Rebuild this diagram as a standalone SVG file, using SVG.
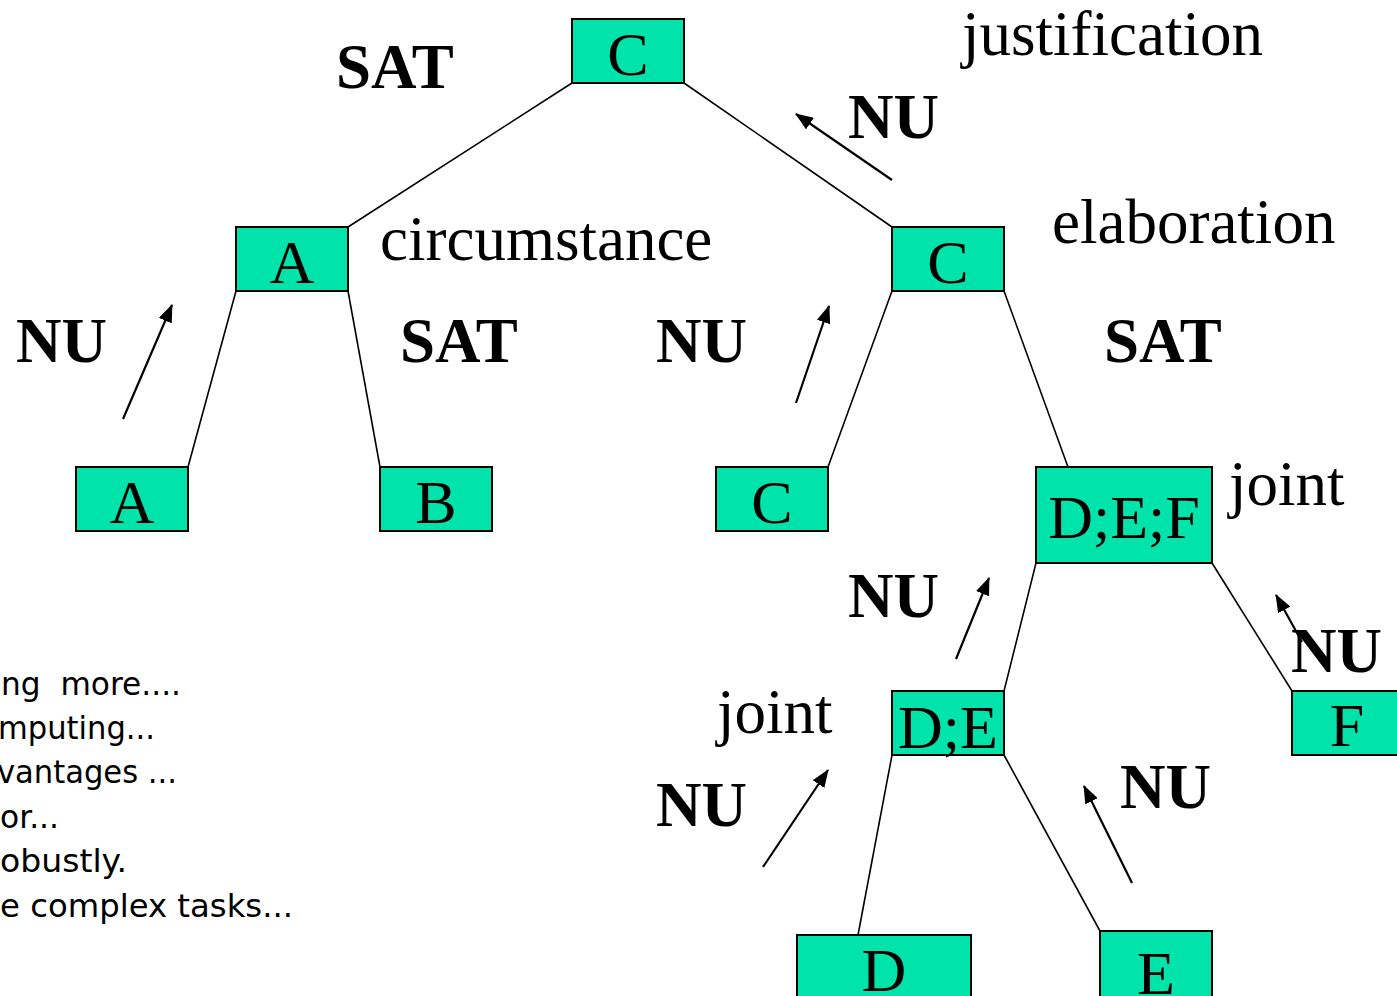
<svg xmlns="http://www.w3.org/2000/svg" width="1397" height="996" viewBox="0 0 1397 996">
  <style>
    .box { fill: #00e3aa; stroke: #000; stroke-width: 2; }
    .nodetxt { font-family: "Liberation Serif", "Times New Roman", serif; font-size: 62px; text-anchor: middle; fill: #000; }
    .rel { font-family: "Liberation Serif", "Times New Roman", serif; font-size: 63px; fill: #000; }
    .nuc { font-family: "Liberation Serif", "Times New Roman", serif; font-size: 63px; font-weight: bold; fill: #000; }
    .edge { stroke: #000; stroke-width: 1.6; fill: none; }
    .arrow { stroke: #000; stroke-width: 2.2; fill: none; marker-end: url(#head); }
    .note { font-family: "DejaVu Sans", Tahoma, Verdana, sans-serif; font-size: 32px; fill: #000; white-space: pre; }
  </style>
  <defs>
    <marker id="head" viewBox="0 0 18 14" refX="17" refY="7" markerWidth="18" markerHeight="14" markerUnits="userSpaceOnUse" orient="auto">
      <path d="M0,0 L18,7 L0,14 z" fill="#000"/>
    </marker>
  </defs>
  <rect width="1397" height="996" fill="#fff"/>

  <!-- tree edges -->
  <g id="connectors">
    <line class="edge" x1="572" y1="83" x2="348" y2="227"/>
    <line class="edge" x1="684" y1="83" x2="892" y2="227"/>
    <line class="edge" x1="236" y1="291" x2="188" y2="467"/>
    <line class="edge" x1="348" y1="291" x2="380" y2="467"/>
    <line class="edge" x1="892" y1="291" x2="828" y2="467"/>
    <line class="edge" x1="1004" y1="291" x2="1068" y2="467"/>
    <line class="edge" x1="1036" y1="563" x2="1004" y2="691"/>
    <line class="edge" x1="1212" y1="563" x2="1292" y2="691"/>
    <line class="edge" x1="892" y1="755" x2="858" y2="935"/>
    <line class="edge" x1="1004" y1="755" x2="1100" y2="931"/>
  </g>

  <!-- nucleus direction arrows -->
  <g id="arrows">
    <line class="arrow" x1="892" y1="180" x2="796" y2="114"/>
    <line class="arrow" x1="123" y1="419" x2="172" y2="305"/>
    <line class="arrow" x1="796" y1="403" x2="829" y2="306"/>
    <line class="arrow" x1="956" y1="659" x2="989" y2="578"/>
    <line class="arrow" x1="1302" y1="642" x2="1276" y2="595"/>
    <line class="arrow" x1="763" y1="867" x2="828" y2="770"/>
    <line class="arrow" x1="1132" y1="883" x2="1084" y2="786"/>
  </g>

  <!-- nodes -->
  <g id="n-root"><rect class="box" x="572" y="19" width="112" height="64"/><text class="nodetxt" x="628" y="75">C</text></g>
  <g id="n-a1"><rect class="box" x="236" y="227" width="112" height="64"/><text class="nodetxt" x="292" y="283">A</text></g>
  <g id="n-c1"><rect class="box" x="892" y="227" width="112" height="64"/><text class="nodetxt" x="948" y="283">C</text></g>
  <g id="n-a"><rect class="box" x="76" y="467" width="112" height="64"/><text class="nodetxt" x="132" y="523">A</text></g>
  <g id="n-b"><rect class="box" x="380" y="467" width="112" height="64"/><text class="nodetxt" x="436" y="523">B</text></g>
  <g id="n-c"><rect class="box" x="716" y="467" width="112" height="64"/><text class="nodetxt" x="772" y="523">C</text></g>
  <g id="n-def"><rect class="box" x="1036" y="467" width="176" height="96"/><text class="nodetxt" x="1124" y="538">D;E;F</text></g>
  <g id="n-de"><rect class="box" x="892" y="691" width="112" height="64"/><text class="nodetxt" x="948" y="748">D;E</text></g>
  <g id="n-f"><rect class="box" x="1292" y="691" width="112" height="64"/><text class="nodetxt" x="1347" y="746">F</text></g>
  <g id="n-d"><rect class="box" x="797" y="935" width="174" height="70"/><text class="nodetxt" x="884" y="991">D</text></g>
  <g id="n-e"><rect class="box" x="1100" y="931" width="112" height="70"/><text class="nodetxt" x="1156" y="994">E</text></g>

  <!-- relation names -->
  <g id="relations">
    <text class="rel" x="962" y="55">justification</text>
    <text class="rel" x="380" y="260">circumstance</text>
    <text class="rel" x="1052" y="243">elaboration</text>
    <text class="rel" x="1229" y="505">joint</text>
    <text class="rel" x="717" y="733">joint</text>
  </g>

  <!-- nucleus / satellite labels -->
  <g id="roles">
    <text class="nuc" x="336" y="88">SAT</text>
    <text class="nuc" x="848" y="138">NU</text>
    <text class="nuc" x="16" y="362">NU</text>
    <text class="nuc" x="400" y="362">SAT</text>
    <text class="nuc" x="656" y="362">NU</text>
    <text class="nuc" x="1104" y="362">SAT</text>
    <text class="nuc" x="848" y="617">NU</text>
    <text class="nuc" x="1291" y="672">NU</text>
    <text class="nuc" x="656" y="826">NU</text>
    <text class="nuc" x="1120" y="808">NU</text>
  </g>

  <!-- side notes -->
  <g id="notes">
    <text class="note" x="1" y="695" textLength="180" lengthAdjust="spacingAndGlyphs">ng  more....</text>
    <text class="note" x="-2" y="739" textLength="157" lengthAdjust="spacingAndGlyphs">mputing...</text>
    <text class="note" x="-3" y="783" textLength="180" lengthAdjust="spacingAndGlyphs">vantages ...</text>
    <text class="note" x="0" y="828" textLength="59" lengthAdjust="spacingAndGlyphs">or...</text>
    <text class="note" x="0" y="872" textLength="127" lengthAdjust="spacingAndGlyphs">obustly.</text>
    <text class="note" x="0" y="917" textLength="293" lengthAdjust="spacingAndGlyphs">e complex tasks...</text>
  </g>
</svg>
